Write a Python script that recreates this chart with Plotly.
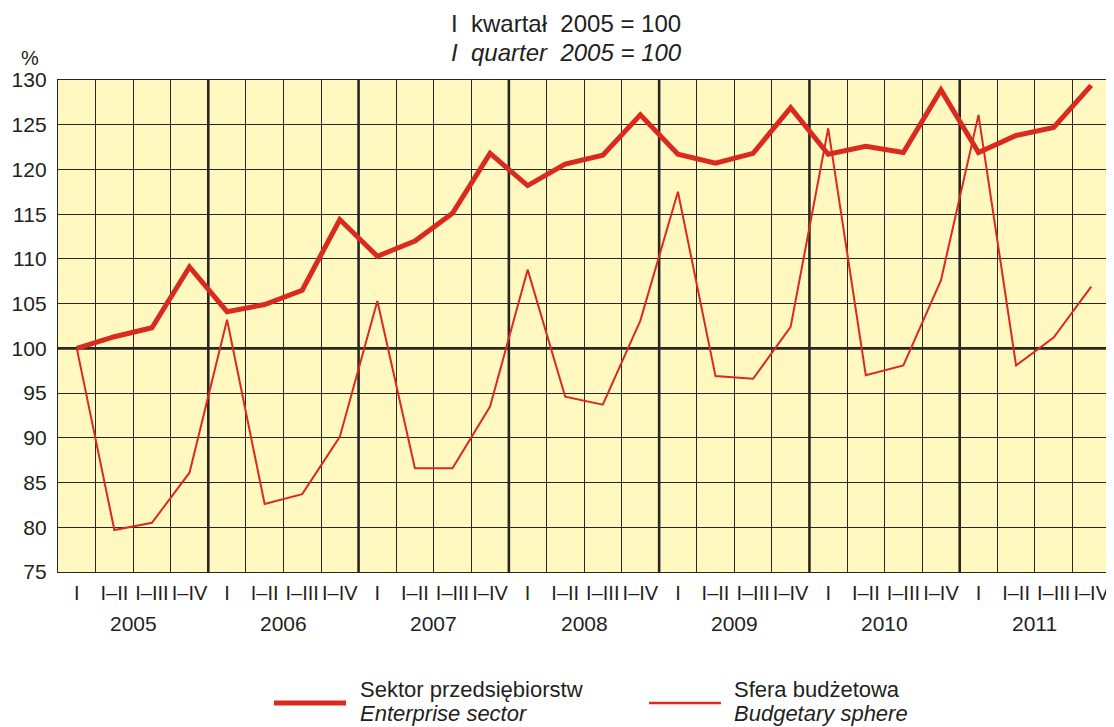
import plotly.graph_objects as go

# dane
lata = ['2005', '2006', '2007', '2008', '2009', '2010', '2011']
kwartaly = ['I', 'I–II', 'I–III', 'I–IV']

sektor_przedsiebiorstw = [100.0, 101.3, 102.3, 109.1,
                          104.1, 104.9, 106.5, 114.4,
                          110.3, 112.0, 115.1, 121.8,
                          118.2, 120.6, 121.6, 126.1,
                          121.7, 120.7, 121.8, 126.9,
                          121.7, 122.6, 121.9, 128.9,
                          121.9, 123.8, 124.7, 129.4]

sfera_budzetowa = [100.0, 79.7, 80.5, 86.1,
                   103.2, 82.6, 83.7, 90.1,
                   105.3, 86.6, 86.6, 93.5,
                   108.8, 94.6, 93.7, 103.1,
                   117.5, 96.9, 96.6, 102.4,
                   124.6, 97.0, 98.1, 107.6,
                   126.1, 98.1, 101.2, 106.9]

CZERWONY = '#da2a1e'
SIATKA = '#2a2622'
TLO = '#fff9c1'
TEKST = '#231f20'
FONT = 'Liberation Sans, Arial, sans-serif'

n = len(lata) * len(kwartaly)
x = list(range(n))
etykiety = kwartaly * len(lata)

fig = go.Figure()

fig.add_trace(go.Scatter(
    x=x, y=sfera_budzetowa, mode='lines',
    line=dict(color=CZERWONY, width=2), showlegend=False
))
fig.add_trace(go.Scatter(
    x=x, y=sektor_przedsiebiorstw, mode='lines',
    line=dict(color=CZERWONY, width=5), showlegend=False
))

shapes = []
# grubsze linie na granicach lat
for i in range(1, len(lata)):
    b = i * len(kwartaly) - 0.5
    shapes.append(dict(type='line', xref='x', yref='paper', x0=b, x1=b, y0=0, y1=1,
                       line=dict(color=SIATKA, width=2.6), layer='between'))
# linia 100
shapes.append(dict(type='line', xref='paper', yref='y', x0=0, x1=1, y0=100, y1=100,
                   line=dict(color=SIATKA, width=2.6), layer='between'))
# legenda
shapes.append(dict(type='line', xref='paper', yref='paper', x0=0.2053, x1=0.2738,
                   y0=-0.2663, y1=-0.2663, line=dict(color=CZERWONY, width=5)))
shapes.append(dict(type='line', xref='paper', yref='paper', x0=0.5618, x1=0.6302,
                   y0=-0.2663, y1=-0.2663, line=dict(color=CZERWONY, width=2.5)))


def napis(tx, px, py, size, xanchor='center'):
    return dict(x=px, y=py, xref='paper', yref='paper', showarrow=False,
                xanchor=xanchor, yanchor='middle', text=tx,
                font=dict(size=size, color=TEKST))


annotations = []
for i, rok in enumerate(lata):
    annotations.append(dict(x=i * len(kwartaly) + 1.5, y=-0.1037, xref='x', yref='paper',
                            yanchor='middle', text=rok, showarrow=False,
                            font=dict(size=21, color=TEKST)))
annotations += [
    napis('I  kwartał  2005 = 100', 0.483, 1.114, 24),
    napis('<i>I  quarter  2005 = 100</i>', 0.483, 1.055, 24),
    napis('%', -0.0266, 1.045, 20),
    napis('Sektor przedsiębiorstw', 0.2852, -0.2398, 22, 'left'),
    napis('<i>Enterprise sector</i>', 0.2852, -0.2866, 22, 'left'),
    napis('Sfera budżetowa', 0.6407, -0.2398, 22, 'left'),
    napis('<i>Budgetary sphere</i>', 0.6407, -0.2866, 22, 'left'),
]

fig.update_layout(
    width=1106, height=719,
    margin=dict(l=50, r=4, t=72, b=155),
    paper_bgcolor='white', plot_bgcolor=TLO,
    font=dict(family=FONT, color=TEKST),
    shapes=shapes, annotations=annotations,
    xaxis=dict(
        range=[-0.5, n - 0.5], tickmode='array', tickvals=x, ticktext=etykiety,
        showgrid=False, zeroline=False, ticks='', ticklen=0, ticklabelstandoff=3,
        tickfont=dict(size=20),
        minor=dict(tickmode='array', tickvals=[v - 0.5 for v in range(1, n)],
                   showgrid=True, gridcolor=SIATKA, gridwidth=1.4),
        showline=True, linecolor=SIATKA, linewidth=1.4, mirror=True,
    ),
    yaxis=dict(
        range=[75, 130], dtick=5, tick0=75, showgrid=True, gridcolor=SIATKA, gridwidth=1.4,
        zeroline=False, ticks='', ticklen=0, tickfont=dict(size=21), ticklabelstandoff=6,
        showline=True, linecolor=SIATKA, linewidth=1.4, mirror=True,
    ),
)

fig.write_html("out.html")
